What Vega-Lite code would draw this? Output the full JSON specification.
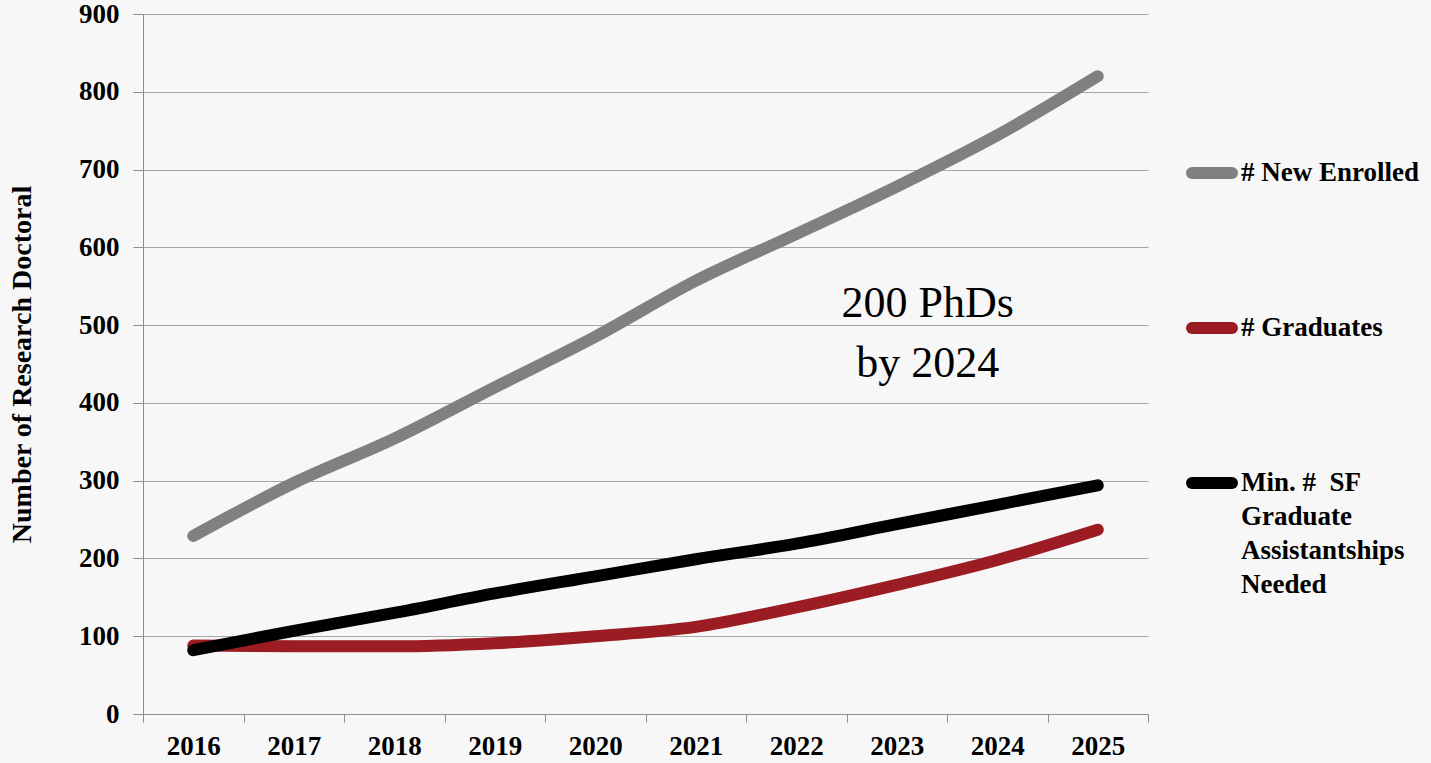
{
  "$schema": "https://vega.github.io/schema/vega-lite/v6.json",
  "width": 1005,
  "height": 700,
  "autosize": {"type": "none"},
  "padding": {"left": 143, "top": 14, "right": 283, "bottom": 49},
  "background": "#f7f7f7",
  "config": {"view": {"stroke": null}, "font": "Liberation Serif"},
  "datasets": {
    "series": [
      {"year": "2016", "series": "# New Enrolled", "value": 229},
      {"year": "2017", "series": "# New Enrolled", "value": 297},
      {"year": "2018", "series": "# New Enrolled", "value": 354},
      {"year": "2019", "series": "# New Enrolled", "value": 420},
      {"year": "2020", "series": "# New Enrolled", "value": 485},
      {"year": "2021", "series": "# New Enrolled", "value": 557},
      {"year": "2022", "series": "# New Enrolled", "value": 617},
      {"year": "2023", "series": "# New Enrolled", "value": 678},
      {"year": "2024", "series": "# New Enrolled", "value": 744},
      {"year": "2025", "series": "# New Enrolled", "value": 820},
      {"year": "2016", "series": "# Graduates", "value": 88},
      {"year": "2017", "series": "# Graduates", "value": 87},
      {"year": "2018", "series": "# Graduates", "value": 87},
      {"year": "2019", "series": "# Graduates", "value": 91},
      {"year": "2020", "series": "# Graduates", "value": 100},
      {"year": "2021", "series": "# Graduates", "value": 112},
      {"year": "2022", "series": "# Graduates", "value": 137},
      {"year": "2023", "series": "# Graduates", "value": 166},
      {"year": "2024", "series": "# Graduates", "value": 198},
      {"year": "2025", "series": "# Graduates", "value": 237},
      {"year": "2016", "series": "Min. #  SF Graduate Assistantships Needed", "value": 82},
      {"year": "2017", "series": "Min. #  SF Graduate Assistantships Needed", "value": 107},
      {"year": "2018", "series": "Min. #  SF Graduate Assistantships Needed", "value": 130},
      {"year": "2019", "series": "Min. #  SF Graduate Assistantships Needed", "value": 155},
      {"year": "2020", "series": "Min. #  SF Graduate Assistantships Needed", "value": 177},
      {"year": "2021", "series": "Min. #  SF Graduate Assistantships Needed", "value": 199},
      {"year": "2022", "series": "Min. #  SF Graduate Assistantships Needed", "value": 219},
      {"year": "2023", "series": "Min. #  SF Graduate Assistantships Needed", "value": 244},
      {"year": "2024", "series": "Min. #  SF Graduate Assistantships Needed", "value": 269},
      {"year": "2025", "series": "Min. #  SF Graduate Assistantships Needed", "value": 294}
    ],
    "note": [
      {"year": "2023", "value": 510, "label": "200 PhDs\nby 2024"}
    ]
  },
  "layer": [
    {
      "data": {"name": "series"},
      "mark": {"type": "line", "strokeWidth": 12, "strokeCap": "round", "strokeJoin": "round", "interpolate": "monotone"},
      "encoding": {
        "x": {
          "field": "year", "type": "ordinal", "bandPosition": 0.5,
          "scale": {"type": "band", "paddingInner": 0, "paddingOuter": 0},
          "axis": {
            "title": null, "labelAngle": 0, "tickBand": "extent", "ticks": true, "tickSize": 8,
            "tickColor": "#8c8c8c", "domainColor": "#8c8c8c", "grid": false,
            "labelFont": "Liberation Serif", "labelFontWeight": "bold", "labelFontSize": 27,
            "labelColor": "#000000", "labelPadding": 11
          }
        },
        "y": {
          "field": "value", "type": "quantitative",
          "scale": {"domain": [0, 900], "nice": false, "zero": true},
          "axis": {
            "title": "Number of Research Doctoral",
            "titleFont": "Liberation Serif", "titleFontSize": 28, "titleFontWeight": "bold",
            "titleColor": "#000000", "titlePadding": 42,
            "values": [0, 100, 200, 300, 400, 500, 600, 700, 800, 900],
            "labelFont": "Liberation Serif", "labelFontWeight": "bold", "labelFontSize": 27,
            "labelColor": "#000000", "labelPadding": 14, "tickSize": 10,
            "tickColor": "#8c8c8c", "domainColor": "#8c8c8c",
            "grid": true, "gridColor": "#a6a6a6", "gridWidth": 1.2
          }
        },
        "color": {
          "field": "series", "type": "nominal",
          "scale": {
            "domain": ["# New Enrolled", "# Graduates", "Min. #  SF Graduate Assistantships Needed"],
            "range": ["#808080", "#9b1d23", "#000000"]
          },
          "legend": {
            "title": null, "orient": "none", "legendX": 1043, "legendY": 133,
            "padding": 0,
            "symbolType": "stroke", "symbolSize": 1600, "symbolStrokeWidth": 12,
            "labelFont": "Liberation Serif", "labelFontSize": 27, "labelFontWeight": "bold",
            "labelColor": "#000000", "labelOffset": 3, "labelLimit": 400,
            "labelBaseline": "top", "rowPadding": 105,
            "labelExpr": "datum.label == 'Min. #  SF Graduate Assistantships Needed' ? ['Min. # \u00a0SF', 'Graduate', 'Assistantships', 'Needed'] : datum.label",
            "encode": {
              "symbols": {"update": {"strokeCap": {"value": "round"}}},
              "labels": {"update": {"dy": {"value": -13}, "lineHeight": {"value": 34}}}
            }
          }
        }
      }
    },
    {
      "data": {"name": "note"},
      "mark": {"type": "text", "font": "Liberation Serif", "fontSize": 44, "lineBreak": "\n", "lineHeight": 60, "dx": 31, "baseline": "alphabetic", "align": "center", "color": "#000000"},
      "encoding": {
        "x": {"field": "year", "type": "ordinal", "bandPosition": 0.5},
        "y": {"field": "value", "type": "quantitative"},
        "text": {"field": "label"}
      }
    }
  ]
}
